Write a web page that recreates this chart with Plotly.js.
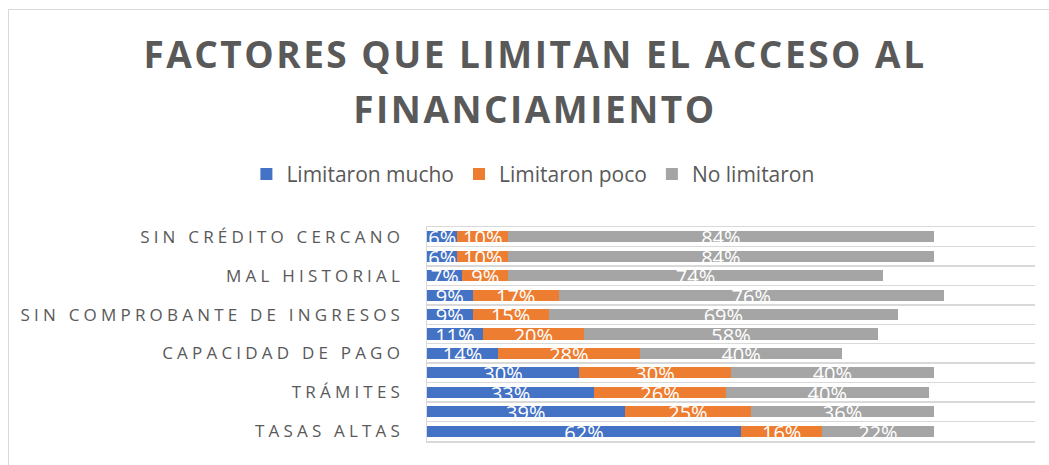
<!DOCTYPE html>
<html>
<head>
<meta charset="utf-8">
<script src="https://cdn.plot.ly/plotly-3.0.1.min.js"></script>
<style>
  html, body { margin: 0; padding: 0; background: #ffffff; overflow: hidden; }
  #frame { position: absolute; left: 8px; top: 9px; width: 1060px; height: 480px; border: 1px solid #d9d9d9; box-sizing: border-box; }
  #chart { position: absolute; left: 0; top: 0; width: 1049px; height: 465px; }
  .gtitle { letter-spacing: 2.5px; }
  .ytick text { letter-spacing: 4.2px; }
</style>
</head>
<body>
<div id="frame"></div>
<div id="chart"></div>
<script>
// Categories from bottom to top (only every other one is labelled in the original chart)
const categories = [
  "TASAS ALTAS", "", "TRÁMITES", "", "CAPACIDAD DE PAGO", "",
  "SIN COMPROBANTE DE INGRESOS", "", "MAL HISTORIAL", "", "SIN CRÉDITO CERCANO"
];
const seriesNames = ["Limitaron mucho", "Limitaron poco", "No limitaron"];
const limitaronMucho = [62, 39, 33, 30, 14, 11, 9, 9, 7, 6, 6];
const limitaronPoco  = [16, 25, 26, 30, 28, 20, 15, 17, 9, 10, 10];
const noLimitaron    = [22, 36, 40, 40, 40, 58, 69, 76, 74, 84, 84];
const colors = ["#4472C4", "#ED7D31", "#A5A5A5"];

const series = [limitaronMucho, limitaronPoco, noLimitaron];
const yIdx = categories.map((_, i) => i);
const tickvals = yIdx.filter(i => categories[i] !== "");
const ticktext = tickvals.map(i => categories[i]);

const traces = [];
series.forEach((vals, s) => {
  traces.push({
    type: "bar", orientation: "h", name: seriesNames[s],
    x: vals, y: yIdx,
    marker: { color: colors[s], line: { width: 0 } },
    hoverinfo: "name+x"
  });
});
// data labels (white, centred in each segment, sitting slightly low as in the original)
series.forEach((vals, s) => {
  const xs = vals.map((v, i) => {
    let base = 0;
    for (let k = 0; k < s; k++) base += series[k][i];
    return base + v / 2;
  });
  traces.push({
    type: "scatter", mode: "text", showlegend: false, hoverinfo: "skip",
    x: xs, y: yIdx.map(i => i - 0.18),
    text: vals.map(v => v + "%"),
    textposition: "middle center",
    textfont: { family: "Open Sans, sans-serif", size: 20, color: "#ffffff" },
    cliponaxis: true
  });
});

const layout = {
  width: 1049, height: 465,
  paper_bgcolor: "rgba(0,0,0,0)", plot_bgcolor: "rgba(0,0,0,0)",
  margin: { l: 427, r: 14, t: 227, b: 24, pad: 0 },
  barmode: "stack", bargap: 0.43,
  showlegend: true,
  title: {
    text: "FACTORES QUE LIMITAN EL ACCESO AL<br>FINANCIAMIENTO",
    font: { family: "Open Sans, sans-serif", size: 37, color: "#595959", weight: 700 },
    x: 0.51, xanchor: "center", xref: "container",
    y: 0.854, yanchor: "middle", yref: "container"
  },
  legend: {
    orientation: "h", x: 0.508, xanchor: "center", xref: "container",
    y: 0.625, yanchor: "middle", yref: "container",
    font: { family: "Open Sans, sans-serif", size: 21, color: "#595959" },
    traceorder: "normal", itemclick: false, itemdoubleclick: false
  },
  xaxis: {
    range: [0, 120], showticklabels: false, showgrid: false, zeroline: false,
    showline: true, mirror: true, linecolor: "#d9d9d9", linewidth: 1.5, ticks: "",
    fixedrange: true
  },
  yaxis: {
    range: [-0.5, 10.5], tickmode: "array", tickvals: tickvals, ticktext: ticktext,
    showgrid: false, zeroline: false, ticks: "", ticklabelstandoff: 18,
    showline: true, linecolor: "#d9d9d9", linewidth: 1.5,
    tickfont: { family: "Open Sans, sans-serif", size: 17, color: "#595959" },
    minor: { tickmode: "linear", tick0: 0.5, dtick: 1, showgrid: true, gridcolor: "#d9d9d9", gridwidth: 1.5, ticks: "" },
    fixedrange: true
  },
  font: { family: "Open Sans, sans-serif", color: "#595959" }
};

Plotly.newPlot("chart", traces, layout, { displayModeBar: false, staticPlot: true }).then(gd => {
  // widen the title's line spacing to match the original
  const lines = gd.querySelectorAll(".gtitle tspan.line");
  lines.forEach((t, i) => { if (i > 0) t.setAttribute("dy", "1.5em"); });
});
</script>
</body>
</html>
